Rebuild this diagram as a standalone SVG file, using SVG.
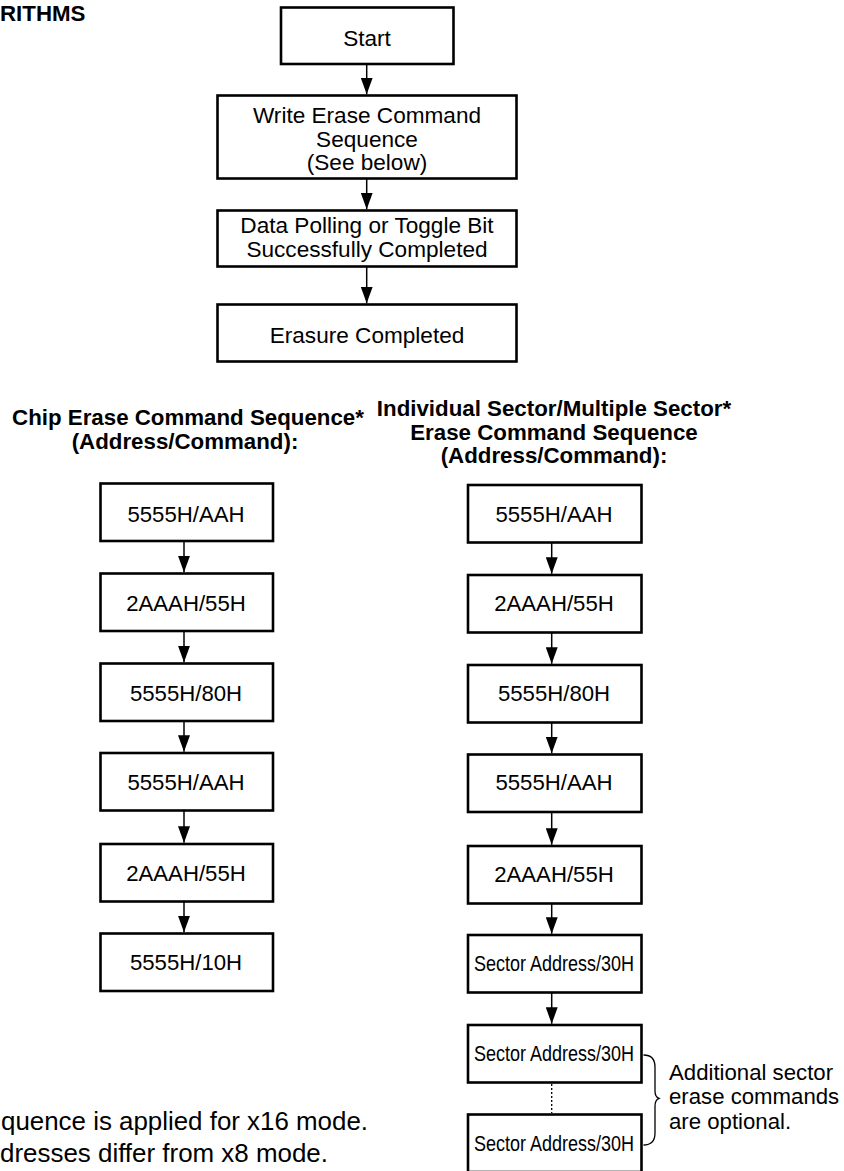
<svg xmlns="http://www.w3.org/2000/svg" width="844" height="1171" viewBox="0 0 844 1171">
  <style>
    .box { fill: #fff; stroke: #000; stroke-width: 2.6; }
    .t { font-family: "Liberation Sans", Arial, Helvetica, sans-serif; font-size: 22.2px; fill: #000; text-anchor: middle; }
    .tt { font-family: "Liberation Sans", Arial, Helvetica, sans-serif; font-size: 22.6px; fill: #000; text-anchor: middle; }
    .tl { font-family: "Liberation Sans", Arial, Helvetica, sans-serif; font-size: 22.2px; fill: #000; }
    .h { font-family: "Liberation Sans", Arial, Helvetica, sans-serif; font-size: 22.3px; font-weight: bold; fill: #000; text-anchor: middle; }
    .narrow { font-family: "Liberation Sans Narrow", "Liberation Sans", Arial, sans-serif; font-size: 22.5px; fill: #000; text-anchor: middle; }
    .note { font-family: "Liberation Sans", Arial, Helvetica, sans-serif; font-size: 25.5px; fill: #000; }
    .conn { stroke: #000; stroke-width: 1.5; fill: none; }
    .dots { stroke: #000; stroke-width: 1.3; stroke-dasharray: 2 2; fill: none; }
    .brace { stroke: #000; stroke-width: 1.3; fill: none; }
  </style>
  <defs>
    <marker id="arrow" markerUnits="userSpaceOnUse" markerWidth="17" markerHeight="12" refX="16.5" refY="6" orient="auto">
      <path d="M0,0 L16.5,6 L0,12 z" fill="#000"/>
    </marker>
  </defs>

  <!-- page heading (tail of the section title) -->
  <text x="0" y="21" style="font-family: 'Liberation Sans', Arial, sans-serif; font-size: 22.3px; font-weight: bold;">RITHMS</text>

  <!-- main flow -->
  <g id="start">
    <rect class="box" x="281" y="7.5" width="172.5" height="56.5"/>
    <text class="tt" x="367" y="45.5">Start</text>
  </g>
  <g id="write-erase">
    <rect class="box" x="217.5" y="95.5" width="299" height="83"/>
    <text class="tt" x="367" y="123">Write Erase Command</text>
    <text class="tt" x="367" y="146.5">Sequence</text>
    <text class="tt" x="367" y="170">(See below)</text>
  </g>
  <g id="polling">
    <rect class="box" x="217.5" y="210.5" width="299" height="56"/>
    <text class="tt" x="367" y="232.5">Data Polling or Toggle Bit</text>
    <text class="tt" x="367" y="257">Successfully Completed</text>
  </g>
  <g id="erasure-completed">
    <rect class="box" x="217.5" y="304.5" width="299" height="57"/>
    <text class="tt" x="367" y="342.5">Erasure Completed</text>
  </g>

  <!-- chip erase sequence -->
  <g id="chip-heading">
    <text class="h" x="188" y="425">Chip Erase Command Sequence*</text>
    <text class="h" x="185" y="449">(Address/Command):</text>
  </g>
  <g id="chip-1">
    <rect class="box" x="100.5" y="483.5" width="172.5" height="57.5"/>
    <text class="t" x="186" y="521.5">5555H/AAH</text>
  </g>
  <g id="chip-2">
    <rect class="box" x="100.5" y="573.5" width="172.5" height="57.5"/>
    <text class="t" x="186" y="611">2AAAH/55H</text>
  </g>
  <g id="chip-3">
    <rect class="box" x="100.5" y="663.5" width="172.5" height="57.5"/>
    <text class="t" x="186" y="700.5">5555H/80H</text>
  </g>
  <g id="chip-4">
    <rect class="box" x="100.5" y="753" width="172.5" height="57.5"/>
    <text class="t" x="186" y="790">5555H/AAH</text>
  </g>
  <g id="chip-5">
    <rect class="box" x="100.5" y="844" width="172.5" height="57.5"/>
    <text class="t" x="186" y="880.5">2AAAH/55H</text>
  </g>
  <g id="chip-6">
    <rect class="box" x="100.5" y="933.5" width="172.5" height="57.5"/>
    <text class="t" x="186" y="970">5555H/10H</text>
  </g>

  <!-- sector erase sequence -->
  <g id="sector-heading">
    <text class="h" x="554" y="416">Individual Sector/Multiple Sector*</text>
    <text class="h" x="554" y="439.5">Erase Command Sequence</text>
    <text class="h" x="554" y="463">(Address/Command):</text>
  </g>
  <g id="sector-1">
    <rect class="box" x="468" y="485" width="173.5" height="57.5"/>
    <text class="t" x="554" y="521.7">5555H/AAH</text>
  </g>
  <g id="sector-2">
    <rect class="box" x="468" y="575" width="173.5" height="57.5"/>
    <text class="t" x="554" y="610.7">2AAAH/55H</text>
  </g>
  <g id="sector-3">
    <rect class="box" x="468" y="665" width="173.5" height="57.5"/>
    <text class="t" x="554" y="700.7">5555H/80H</text>
  </g>
  <g id="sector-4">
    <rect class="box" x="468" y="754.5" width="173.5" height="57.5"/>
    <text class="t" x="554" y="790">5555H/AAH</text>
  </g>
  <g id="sector-5">
    <rect class="box" x="468" y="846" width="173.5" height="57.5"/>
    <text class="t" x="554" y="881.5">2AAAH/55H</text>
  </g>
  <g id="sector-6">
    <rect class="box" x="468" y="935" width="173.5" height="57.5"/>
    <text class="narrow" x="554" y="971" textLength="160" lengthAdjust="spacingAndGlyphs">Sector Address/30H</text>
  </g>
  <g id="sector-7">
    <rect class="box" x="468" y="1025" width="173.5" height="57.5"/>
    <text class="narrow" x="554" y="1061" textLength="160" lengthAdjust="spacingAndGlyphs">Sector Address/30H</text>
  </g>
  <g id="sector-8">
    <rect class="box" x="468" y="1114.5" width="173.5" height="57.5"/>
    <text class="narrow" x="554" y="1151" textLength="160" lengthAdjust="spacingAndGlyphs">Sector Address/30H</text>
  </g>

  <!-- optional-commands annotation -->
  <g id="optional-note">
    <path class="brace" d="M643.5,1055 C651.5,1055 655,1059 655,1067 L655,1091 Q655,1097 659,1098.3 Q655,1100 655,1106 L655,1133 C655,1141 651.5,1145 643.5,1145"/>
    <text class="tl" x="669" y="1079.5">Additional sector</text>
    <text class="tl" x="669" y="1104">erase commands</text>
    <text class="tl" x="669" y="1128.5">are optional.</text>
  </g>

  <!-- footnote -->
  <g id="footnote">
    <text class="note" x="1" y="1130" textLength="367" lengthAdjust="spacingAndGlyphs">quence is applied for x16 mode.</text>
    <text class="note" x="0" y="1162" textLength="328" lengthAdjust="spacingAndGlyphs">dresses differ from x8 mode.</text>
  </g>

  <!-- connectors -->
  <g id="connectors">
    <line class="conn" x1="366.7" y1="64" x2="366.7" y2="94.3" marker-end="url(#arrow)"/>
    <line class="conn" x1="366.7" y1="179" x2="366.7" y2="209.3" marker-end="url(#arrow)"/>
    <line class="conn" x1="366.7" y1="266.5" x2="366.7" y2="303.3" marker-end="url(#arrow)"/>

    <line class="conn" x1="184" y1="541" x2="184" y2="572.3" marker-end="url(#arrow)"/>
    <line class="conn" x1="184" y1="631" x2="184" y2="662.3" marker-end="url(#arrow)"/>
    <line class="conn" x1="184" y1="721" x2="184" y2="751.8" marker-end="url(#arrow)"/>
    <line class="conn" x1="184" y1="810.5" x2="184" y2="842.8" marker-end="url(#arrow)"/>
    <line class="conn" x1="184" y1="901.5" x2="184" y2="932.3" marker-end="url(#arrow)"/>

    <line class="conn" x1="551.7" y1="542.5" x2="551.7" y2="573.8" marker-end="url(#arrow)"/>
    <line class="conn" x1="551.7" y1="632.5" x2="551.7" y2="663.8" marker-end="url(#arrow)"/>
    <line class="conn" x1="551.7" y1="722.5" x2="551.7" y2="753.3" marker-end="url(#arrow)"/>
    <line class="conn" x1="551.7" y1="812" x2="551.7" y2="844.8" marker-end="url(#arrow)"/>
    <line class="conn" x1="551.7" y1="903.5" x2="551.7" y2="933.8" marker-end="url(#arrow)"/>
    <line class="conn" x1="551.7" y1="992.5" x2="551.7" y2="1023.8" marker-end="url(#arrow)"/>
    <line class="dots" x1="551.7" y1="1084" x2="551.7" y2="1113"/>
  </g>
</svg>
